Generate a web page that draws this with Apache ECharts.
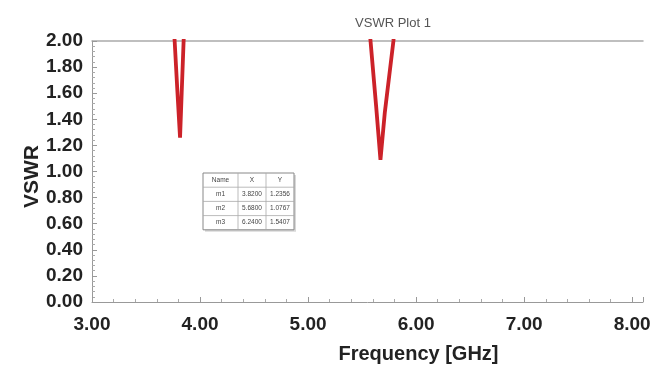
<!DOCTYPE html>
<html>
<head>
<meta charset="utf-8">
<script src="https://cdn.jsdelivr.net/npm/echarts@6/dist/echarts.min.js"></script>
<style>
html,body{margin:0;padding:0;background:#fff;}
#chart{width:654px;height:369px;}
</style>
</head>
<body>
<div id="chart"></div>
<script>
// Data
const dip1Freq = [3.70, 3.765, 3.79, 3.815, 3.83, 3.848, 3.90];
const dip1Vswr = [2.80, 2.00, 1.62, 1.26, 1.60, 2.00, 2.80];
const dip2Freq = [5.50, 5.578, 5.63, 5.67, 5.71, 5.79, 5.86];
const dip2Vswr = [2.80, 2.00, 1.50, 1.09, 1.45, 2.00, 2.80];
const markerNames = ['m1', 'm2', 'm3'];
const markerX = ['3.8200', '5.6800', '6.2400'];
const markerY = ['1.2356', '1.0767', '1.5407'];
const tableHeader = ['Name', 'X', 'Y'];

const chart = echarts.init(document.getElementById('chart'), null, {renderer: 'canvas'});
const FONT = 'Liberation Sans, Arial, sans-serif';

// Build marker table graphics
const tblX = 203, tblY = 173, colW = [35, 28, 28], rowH = 14.2;
const tblW = colW.reduce((a, b) => a + b, 0), tblH = rowH * 4;
const tableChildren = [];
tableChildren.push({type: 'rect', shape: {x: tblX + 2, y: tblY + 2, width: tblW, height: tblH}, style: {fill: '#d8d8d8'}});
tableChildren.push({type: 'rect', shape: {x: tblX, y: tblY, width: tblW, height: tblH}, style: {fill: '#fff', stroke: '#888', lineWidth: 1}});
const rows = [tableHeader].concat(markerNames.map((n, i) => [n, markerX[i], markerY[i]]));
rows.forEach((r, ri) => {
  if (ri > 0) tableChildren.push({type: 'line', shape: {x1: tblX, y1: tblY + ri * rowH, x2: tblX + tblW, y2: tblY + ri * rowH}, style: {stroke: '#aaa', lineWidth: 0.8}});
  let cx = tblX;
  r.forEach((c, ci) => {
    if (ri === 0 && ci > 0) tableChildren.push({type: 'line', shape: {x1: cx, y1: tblY, x2: cx, y2: tblY + tblH}, style: {stroke: '#aaa', lineWidth: 0.8}});
    tableChildren.push({type: 'text', style: {text: c, x: cx + colW[ci] / 2, y: tblY + ri * rowH + rowH / 2, align: 'center', verticalAlign: 'middle', font: '6.5px ' + FONT, fill: '#444'}});
    cx += colW[ci];
  });
});

const option = {
  backgroundColor: '#fff',
  animation: false,
  title: {
    text: 'VSWR Plot 1', left: 388, top: 12, textAlign: 'center',
    textStyle: {fontFamily: FONT, fontSize: 13, fontWeight: 'normal', color: '#555'}
  },
  grid: {left: 92, right: 11, top: 41, bottom: 67},
  xAxis: [{
    type: 'value', min: 3, max: 8.1, interval: 1,
    name: 'Frequency [GHz]', nameLocation: 'middle', nameGap: 42,
    nameTextStyle: {fontFamily: FONT, fontSize: 20, fontWeight: 'bold', color: '#222', padding: [0, 0, 0, 102]},
    axisLine: {show: true, lineStyle: {color: '#999', width: 1}},
    axisTick: {show: true, inside: true, length: 5, lineStyle: {color: '#999'}},
    minorTick: {show: true, splitNumber: 5, length: 3, lineStyle: {color: '#aaa'}},
    axisLabel: {formatter: v => v.toFixed(2), fontFamily: FONT, fontSize: 19, fontWeight: 'bold', color: '#222', margin: 13, showMaxLabel: false},
    splitLine: {show: false}
  }, {
    type: 'value', min: 3, max: 8.1, position: 'top',
    axisLine: {show: true, lineStyle: {color: '#aaa', width: 1.5}},
    axisTick: {show: false}, axisLabel: {show: false}, splitLine: {show: false}
  }],
  yAxis: {
    type: 'value', min: 0, max: 2, interval: 0.2,
    name: 'VSWR', nameLocation: 'middle', nameGap: 49, nameRotate: 90, nameMoveOverlap: false,
    nameTextStyle: {fontFamily: FONT, fontSize: 21, fontWeight: 'bold', color: '#222', padding: [0, 10, 0, 0]},
    axisLine: {show: true, lineStyle: {color: '#999', width: 1}},
    axisTick: {show: true, inside: true, length: 5, lineStyle: {color: '#999'}},
    minorTick: {show: true, splitNumber: 5, length: 3, lineStyle: {color: '#aaa'}},
    axisLabel: {formatter: v => v.toFixed(2), fontFamily: FONT, fontSize: 19, fontWeight: 'bold', color: '#222', margin: 9},
    splitLine: {show: false}
  },
  series: [{
    type: 'line', data: dip1Freq.map((f, i) => [f, dip1Vswr[i]]),
    showSymbol: false, smooth: false, clip: true,
    lineStyle: {color: '#cc2229', width: 3.8}
  }, {
    type: 'line', data: dip2Freq.map((f, i) => [f, dip2Vswr[i]]),
    showSymbol: false, smooth: false, clip: true,
    lineStyle: {color: '#cc2229', width: 3.8}
  }],
  graphic: [{type: 'group', children: tableChildren}]
};
chart.setOption(option);
</script>
</body>
</html>
